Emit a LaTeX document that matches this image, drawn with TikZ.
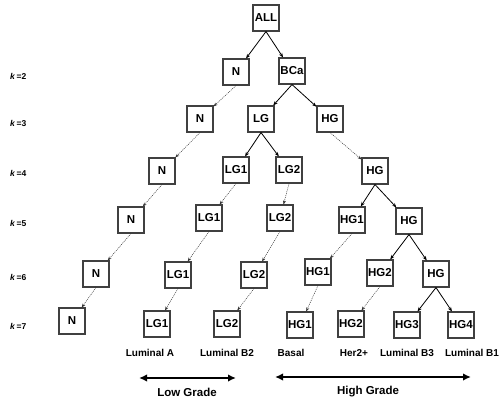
\documentclass[tikz,border=0pt]{standalone}
\usepackage{fontspec}
\setmainfont{Liberation Sans}
\usetikzlibrary{arrows.meta}
\begin{document}
\begin{tikzpicture}[x=1pt,y=-1pt,
  box/.style={draw=black!75, line width=1.1pt, minimum width=26pt, minimum height=26pt,
    inner sep=0pt, font=\fontsize{11.5}{11.5}\selectfont\bfseries},
  split/.style={-{Stealth[length=4.5pt,width=3.5pt]}, line width=0.8pt},
  carry/.style={-{Stealth[length=4pt,width=3pt]}, line width=0.5pt,
    dash pattern=on 1pt off 1pt, draw=black!80},
  klab/.style={font=\fontsize{8.5}{8.5}\selectfont\bfseries, anchor=west, inner sep=0pt},
  sub/.style={font=\fontsize{10}{10}\selectfont\bfseries, inner sep=0pt},
  grade/.style={font=\fontsize{11.5}{11.5}\selectfont\bfseries, inner sep=0pt},
  span/.style={{Latex[length=8pt,width=7.5pt]}-{Latex[length=8pt,width=7.5pt]}, line width=2.5pt}]
\useasboundingbox (0,0) rectangle (501,401);

% level labels
\node[klab] (k2) at (10,76) {\textit{k}\,=2};
\node[klab] (k3) at (10,123) {\textit{k}\,=3};
\node[klab] (k4) at (10,173) {\textit{k}\,=4};
\node[klab] (k5) at (10,223) {\textit{k}\,=5};
\node[klab] (k6) at (10,277) {\textit{k}\,=6};
\node[klab] (k7) at (10,326) {\textit{k}\,=7};

% tree nodes
\node[box] (all) at (266,18) {ALL};
\node[box] (n2) at (236,72) {N};
\node[box] (bca) at (292,71) {BCa};

\node[box] (n3) at (200,119) {N};
\node[box] (lg3) at (261,119) {LG};
\node[box] (hg3) at (330,119) {HG};

\node[box] (n4) at (162,171) {N};
\node[box] (lga4) at (236,170) {LG1};
\node[box] (lgb4) at (289,170) {LG2};
\node[box] (hg4) at (375,171) {HG};

\node[box] (n5) at (131,220) {N};
\node[box] (lga5) at (209,218) {LG1};
\node[box] (lgb5) at (280,218) {LG2};
\node[box] (hga5) at (352,220) {HG1};
\node[box] (hg5) at (409,221) {HG};

\node[box] (n6) at (96,274) {N};
\node[box] (lga6) at (178,275) {LG1};
\node[box] (lgb6) at (254,275) {LG2};
\node[box] (hga6) at (318,272) {HG1};
\node[box] (hgb6) at (380,273) {HG2};
\node[box] (hg6) at (436,274) {HG};

\node[box] (n7) at (72,321) {N};
\node[box] (lga7) at (157,324) {LG1};
\node[box] (lgb7) at (227,324) {LG2};
\node[box] (hga7) at (300,325) {HG1};
\node[box] (hgb7) at (351,324) {HG2};
\node[box] (hgc7) at (407,325) {HG3};
\node[box] (hgd7) at (461,325) {HG4};

% splits
\draw[split] (all.south) -- (n2);
\draw[split] (all.south) -- (bca);
\draw[split] (bca.south) -- (lg3);
\draw[split] (bca.south) -- (hg3);
\draw[split] (lg3.south) -- (lga4);
\draw[split] (lg3.south) -- (lgb4);
\draw[split] (hg4.south) -- (hga5);
\draw[split] (hg4.south) -- (hg5);
\draw[split] (hg5.south) -- (hgb6);
\draw[split] (hg5.south) -- (hg6);
\draw[split] (hg6.south) -- (hgc7);
\draw[split] (hg6.south) -- (hgd7);

% carried-over groups
\draw[carry] (n2.south) -- (n3);
\draw[carry] (n3.south) -- (n4);
\draw[carry] (n4.south) -- (n5);
\draw[carry] (n5.south) -- (n6);
\draw[carry] (n6.south) -- (n7);
\draw[carry] (hg3.south) -- (hg4);
\draw[carry] (lga4.south) -- (lga5);
\draw[carry] (lga5.south) -- (lga6);
\draw[carry] (lga6.south) -- (lga7);
\draw[carry] (lgb4.south) -- (lgb5);
\draw[carry] (lgb5.south) -- (lgb6);
\draw[carry] (lgb6.south) -- (lgb7);
\draw[carry] (hga5.south) -- (hga6);
\draw[carry] (hga6.south) -- (hga7);
\draw[carry] (hgb6.south) -- (hgb7);

% subtype names
\node[sub] (lumA) at (150,353) {Luminal A};
\node[sub] (lumB2) at (227,353) {Luminal B2};
\node[sub] (basal) at (291,353) {Basal};
\node[sub] (her2) at (354,353) {Her2+};
\node[sub] (lumB3) at (407,353) {Luminal B3};
\node[sub] (lumB1) at (472,353) {Luminal B1};

% grade ranges
\coordinate (lowL) at (139,378);
\coordinate (lowR) at (236,378);
\coordinate (highL) at (275,377);
\coordinate (highR) at (471,377);
\draw[span] (lowL) -- (lowR);
\draw[span] (highL) -- (highR);
\node[grade] (low) at (187,392) {Low Grade};
\node[grade] (high) at (368,392) {High Grade};
\end{tikzpicture}
\end{document}
